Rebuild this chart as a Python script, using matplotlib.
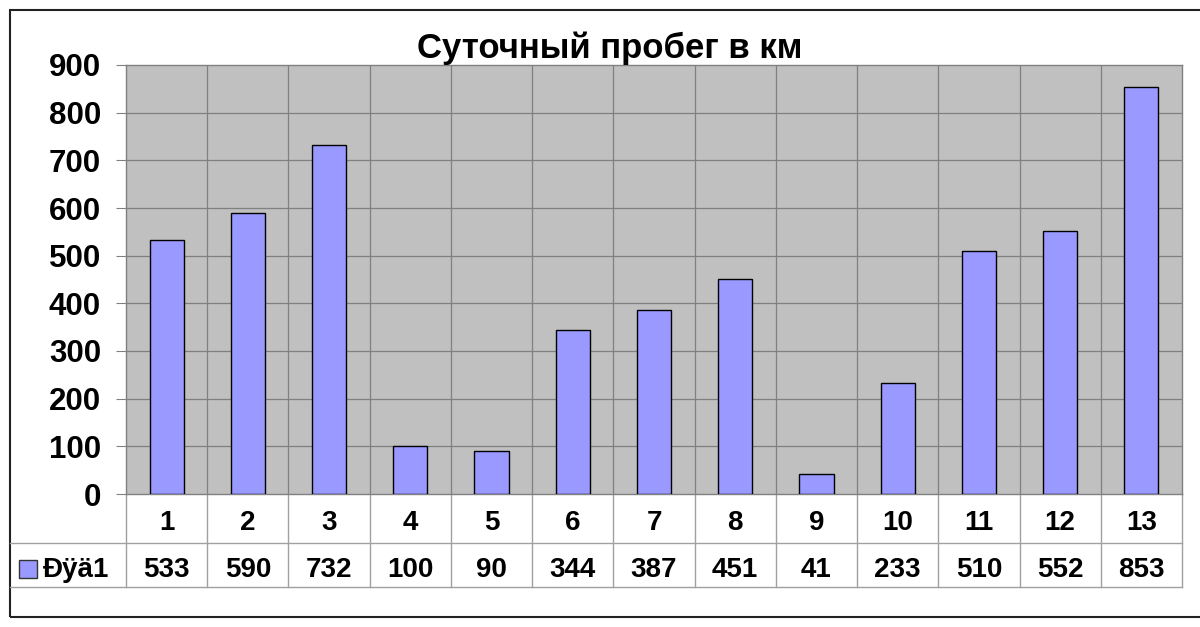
import matplotlib
matplotlib.use('Agg')
from matplotlib import pyplot as plt
from matplotlib.patches import Rectangle
from matplotlib.lines import Line2D
import matplotlib.transforms as mtrans

days = ['1', '2', '3', '4', '5', '6', '7', '8', '9', '10', '11', '12', '13']
km = [533, 590, 732, 100, 90, 344, 387, 451, 41, 233, 510, 552, 853]
series_name = 'Ðÿä1'
title = 'Суточный пробег в км'

plt.rcParams['font.family'] = ['Liberation Sans', 'DejaVu Sans']

W, H = 1200, 627
fig = plt.figure(figsize=(W / 100, H / 100), dpi=100)

def fx(px):
    return px / W

def fy(py):
    return 1 - py / H

x0, x1, y0, y1 = 126, 1182, 65, 494
ax = fig.add_axes([fx(x0), fy(y1), fx(x1) - fx(x0), fy(y0) - fy(y1)])
ax.set_facecolor('#c0c0c0')

n = len(days)
pos = list(range(n))
ax.bar(pos, km, width=0.42, color='#9999ff', edgecolor='black', linewidth=1, zorder=3)
ax.set_xlim(-0.5, n - 0.5)
ax.set_ylim(0, 900)
ax.set_yticks(range(0, 901, 100))
ax.tick_params(axis='y', labelsize=22.5, length=7, color='#808080', pad=11)
for lab in ax.get_yticklabels():
    lab.set_fontweight('bold')
ax.set_xticks([])
# grid
for v in range(100, 900, 100):
    ax.axhline(v, color='#808080', linewidth=0.9, zorder=1)
for i in range(1, n):
    ax.axvline(i - 0.5, color='#808080', linewidth=0.9, zorder=1)
for s in ax.spines.values():
    s.set_color('#808080')
    s.set_linewidth(1)

fig.text(fx(610), fy(48), title, ha='center', va='center', fontsize=25, fontweight='bold')

# data table under the axes
trans = mtrans.blended_transform_factory(ax.transData, fig.transFigure)
row1, row2 = 543, 587
grid_c = '#a0a0a0'
for i in range(n + 1):
    ax.add_line(Line2D([i - 0.5, i - 0.5], [fy(y1), fy(row2)], transform=trans,
                       color=grid_c, linewidth=1, clip_on=False))
for yy in (row1, row2):
    fig.add_artist(Line2D([fx(10), fx(x1)], [fy(yy), fy(yy)], color=grid_c, linewidth=1))
for i, d in enumerate(days):
    ax.text(i, fy((y1 + row1) / 2 + 4), d, transform=trans, ha='center', va='center',
            fontsize=20, fontweight='bold', clip_on=False)
    ax.text(i, fy((row1 + row2) / 2 + 5), str(km[i]), transform=trans, ha='center', va='center',
            fontsize=20, fontweight='bold', clip_on=False)

# legend key in the table
fig.add_artist(Rectangle((fx(19), fy(578)), fx(18), fy(560) - fy(578),
                         facecolor='#9999ff', edgecolor='#333333', linewidth=1))
fig.text(fx(43), fy((row1 + row2) / 2 + 5), series_name, ha='left', va='center',
         fontsize=20, fontweight='bold')

# outer chart frame
fig.add_artist(Rectangle((fx(10), fy(617)), 1.2, fy(10) - fy(617), fill=False,
                         edgecolor='#222222', linewidth=1.5))

fig.savefig('out.png', dpi=100)
